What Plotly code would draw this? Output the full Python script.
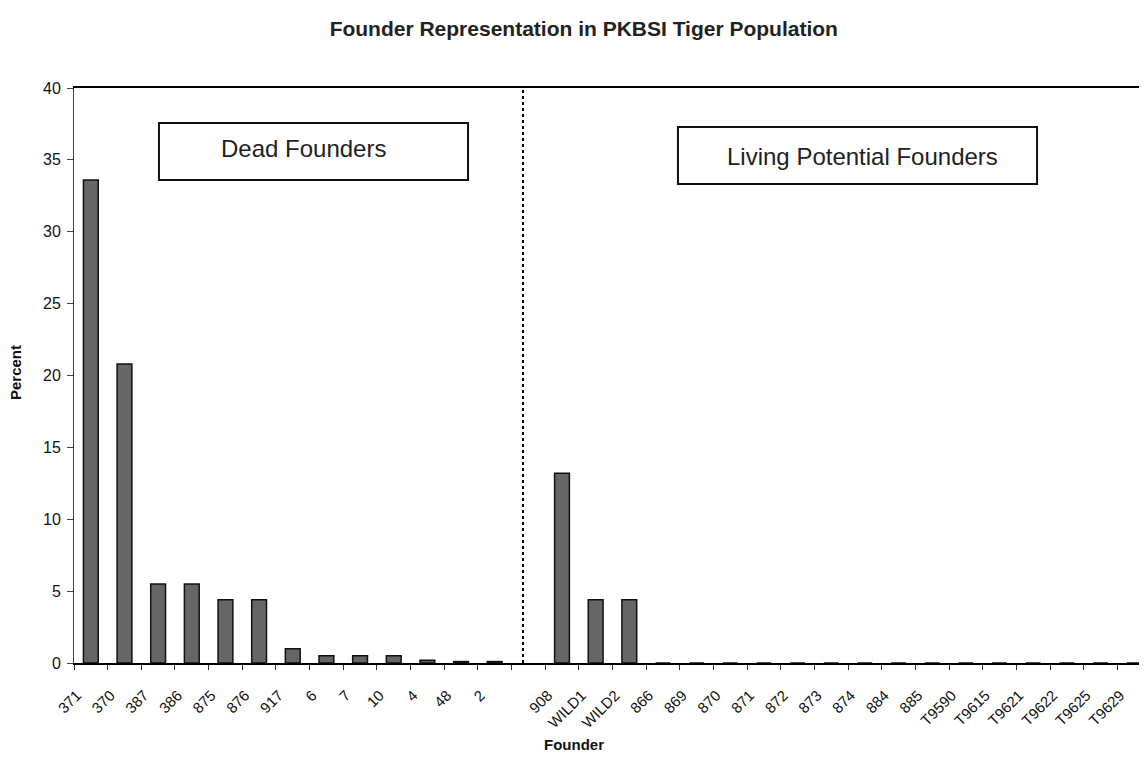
import plotly.graph_objects as go

# ---- data ----
dead_founders = ["371", "370", "387", "386", "875", "876", "917", "6", "7", "10", "4", "48", "2"]
dead_percent = [33.6, 20.8, 5.5, 5.5, 4.4, 4.4, 1.0, 0.5, 0.5, 0.5, 0.2, 0.1, 0.1]

living_founders = ["908", "WILD1", "WILD2", "866", "869", "870", "871", "872", "873", "874",
                   "884", "885", "T9590", "T9615", "T9621", "T9622", "T9625", "T9629"]
living_percent = [13.2, 4.4, 4.4, 0, 0, 0, 0, 0, 0, 0, 0, 0, 0, 0, 0, 0, 0, 0]

gap_label = [" "]
categories = dead_founders + gap_label + living_founders
values = dead_percent + [None] + living_percent

y_ticks = [0, 5, 10, 15, 20, 25, 30, 35, 40]

FONT = "Arial, 'Liberation Sans', sans-serif"

fig = go.Figure()
fig.add_trace(go.Bar(
    x=categories, y=values,
    width=0.44,
    marker=dict(color="#666666", line=dict(color="#111111", width=1.5)),
    showlegend=False,
))

n_dead = len(dead_founders)
# dotted divider between the two groups
fig.add_shape(type="line", xref="x", yref="y",
              x0=n_dead - 0.16, x1=n_dead - 0.16, y0=0, y1=40,
              line=dict(color="black", width=2, dash="dot"))

# label boxes (paper coordinates of the plot area)
fig.add_shape(type="rect", xref="paper", yref="paper",
              x0=0.0786, x1=0.3645, y0=0.840, y1=0.939,
              line=dict(color="#111111", width=2), fillcolor="white")
fig.add_shape(type="rect", xref="paper", yref="paper",
              x0=0.5587, x1=0.8909, y0=0.833, y1=0.932,
              line=dict(color="#111111", width=2), fillcolor="white")

fig.update_layout(
    width=1147, height=763,
    margin=dict(l=66, r=0, t=80, b=108),
    paper_bgcolor="white", plot_bgcolor="white",
    font=dict(family=FONT, color="black", size=14),
    title=dict(text="<b>Founder Representation in PKBSI Tiger Population</b>",
               x=0.502, xanchor="center", y=0.9725, yanchor="middle",
               font=dict(family=FONT, size=21, color="#222222")),
)

fig.update_xaxes(
    type="category", categoryorder="array", categoryarray=categories,
    range=[-0.5, 31.62],
    showline=True, linecolor="black", linewidth=1.5, mirror=True,
    ticks="outside", tickson="boundaries", ticklen=5, tickcolor="#333333",
    tickangle=-45, tickfont=dict(family=FONT, size=15, color="#111111"),
    ticklabelshift=-14, ticklabelstandoff=16,
    showgrid=False, zeroline=False,
)
fig.update_yaxes(
    range=[0, 40], tickvals=y_ticks,
    showline=True, linecolor="#444444", linewidth=1, mirror=False,
    ticks="outside", ticklen=6, tickcolor="#444444",
    tickfont=dict(family=FONT, size=16, color="#111111"),
    ticklabelstandoff=3,
    showgrid=False, zeroline=False,
)

fig.add_annotation(text="<b>Percent</b>", xref="paper", yref="paper",
                   x=-0.0546, y=0.506, xanchor="center", yanchor="middle",
                   textangle=-90, showarrow=False,
                   font=dict(family=FONT, size=15, color="#111111"))
fig.add_annotation(text="<b>Founder</b>", xref="paper", yref="paper",
                   x=0.4625, y=-0.141, xanchor="center", yanchor="middle",
                   showarrow=False,
                   font=dict(family=FONT, size=15, color="#111111"))

fig.add_annotation(text="Dead Founders", xref="paper", yref="paper",
                   x=0.2127, y=0.8947, xanchor="center", yanchor="middle",
                   showarrow=False,
                   font=dict(family=FONT, size=24, color="#222222"))
fig.add_annotation(text="Living Potential Founders", xref="paper", yref="paper",
                   x=0.7294, y=0.8817, xanchor="center", yanchor="middle",
                   showarrow=False,
                   font=dict(family=FONT, size=24, color="#222222"))

fig.write_html("out.html")
